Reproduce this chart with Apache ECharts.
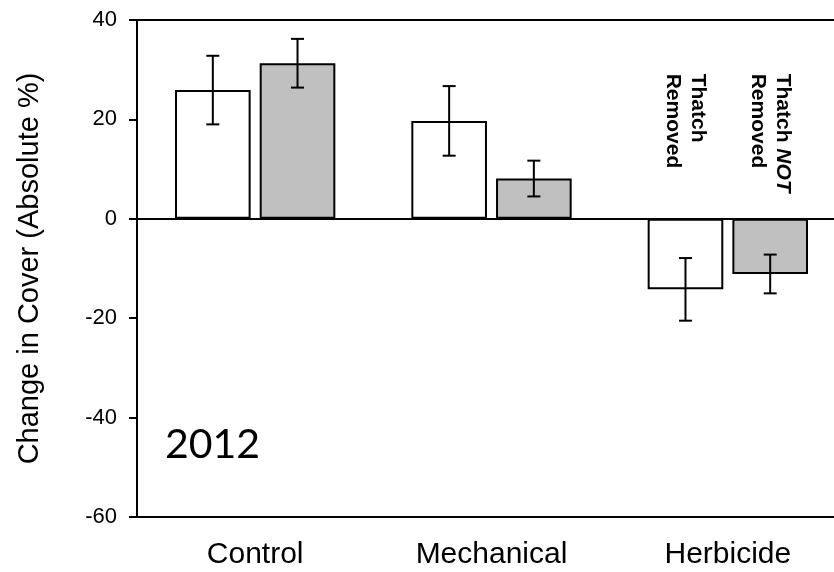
<!DOCTYPE html>
<html>
<head>
<meta charset="utf-8">
<script src="https://cdn.jsdelivr.net/npm/echarts@6/dist/echarts.min.js"></script>
<style>
html,body{margin:0;padding:0;background:#fff;overflow:hidden;width:834px;height:572px;}
#chart{width:846px;height:572px;}
</style>
</head>
<body>
<div id="chart"></div>
<script>
var categories = ['Control', 'Mechanical', 'Herbicide'];
var thatchRemoved = [25.9, 19.7, -14.2];
var thatchRemovedErr = [6.9, 7.0, 6.3];
var thatchNotRemoved = [31.3, 8.1, -11.1];
var thatchNotRemovedErr = [4.9, 3.6, 3.9];
var yTicks = [40, 20, 0, -20, -40, -60];
var yearLabel = '2012';
var yTitle = 'Change in Cover (Absolute %)';
var labelTopValue = 29.2;

var FONT = '"Liberation Sans", Arial, sans-serif';
var BAR_W = 0.32, BAR_GAP = 0.12;

var chart = echarts.init(document.getElementById('chart'), null, {renderer: 'canvas'});

function errSeries(name, vals, errs, sign) {
  return {
    type: 'custom',
    name: name,
    z: 10,
    clip: false,
    data: vals.map(function (v, i) { return [i, v - errs[i], v + errs[i]]; }),
    renderItem: function (params, api) {
      var band = api.size([1, 0])[0];
      var bw = band * BAR_W;
      var off = sign * (bw + bw * BAR_GAP) / 2;
      var lo = api.coord([api.value(0), api.value(1)]);
      var hi = api.coord([api.value(0), api.value(2)]);
      var x = lo[0] + off;
      var cap = 6.5;
      var st = {stroke: '#000', lineWidth: 2, fill: null};
      return {
        type: 'group',
        children: [
          {type: 'line', shape: {x1: x, y1: lo[1], x2: x, y2: hi[1]}, style: st},
          {type: 'line', shape: {x1: x - cap, y1: lo[1], x2: x + cap, y2: lo[1]}, style: st},
          {type: 'line', shape: {x1: x - cap, y1: hi[1], x2: x + cap, y2: hi[1]}, style: st}
        ]
      };
    }
  };
}

var option = {
  animation: false,
  backgroundColor: '#fff',
  grid: {left: 137, top: 20, bottom: 55, right: 0, show: true, borderColor: '#000', borderWidth: 2, backgroundColor: 'transparent'},
  xAxis: {
    type: 'category',
    data: categories,
    axisLine: {onZero: false, lineStyle: {color: '#000', width: 2}},
    axisTick: {alignWithLabel: true, length: 7, lineStyle: {color: '#000', width: 2}},
    axisLabel: {color: '#000', fontFamily: FONT, fontSize: 30, margin: 23}
  },
  yAxis: {
    type: 'value',
    min: yTicks[yTicks.length - 1],
    max: yTicks[0],
    interval: 20,
    splitLine: {show: false},
    axisLine: {show: true, lineStyle: {color: '#000', width: 2}},
    axisTick: {show: true, length: 8, lineStyle: {color: '#000', width: 2}},
    axisLabel: {color: '#000', fontFamily: FONT, fontSize: 22, margin: 20},
    name: yTitle,
    nameLocation: 'middle',
    nameGap: 93,
    nameTextStyle: {color: '#000', fontFamily: FONT, fontSize: 29}
  },
  series: [
    {
      type: 'bar',
      name: 'Thatch Removed',
      data: thatchRemoved,
      barWidth: (BAR_W * 100) + '%',
      barGap: (BAR_GAP * 100) + '%',
      itemStyle: {color: '#ffffff', borderColor: '#000', borderWidth: 2},
      markLine: {
        silent: true,
        symbol: 'none',
        label: {show: false},
        lineStyle: {color: '#000', width: 2, type: 'solid'},
        data: [{yAxis: 0}]
      }
    },
    {
      type: 'bar',
      name: 'Thatch NOT Removed',
      data: thatchNotRemoved,
      barWidth: (BAR_W * 100) + '%',
      barGap: (BAR_GAP * 100) + '%',
      itemStyle: {color: '#c0c0c0', borderColor: '#000', borderWidth: 2}
    },
    errSeries('err1', thatchRemoved, thatchRemovedErr, -1),
    errSeries('err2', thatchNotRemoved, thatchNotRemovedErr, 1)
  ]
};
chart.setOption(option);

var c2 = chart.convertToPixel({xAxisIndex: 0}, categories[2]);
var c1 = chart.convertToPixel({xAxisIndex: 0}, categories[1]);
var band = c2 - c1;
var bw = band * BAR_W;
var off = (bw + bw * BAR_GAP) / 2;
var topY = chart.convertToPixel({yAxisIndex: 0}, labelTopValue);

chart.setOption({
  graphic: [
    {
      type: 'text',
      x: 165, y: 424,
      style: {text: yearLabel, font: '41px Lato, "Open Sans", sans-serif', fill: '#000'}
    },
    {
      type: 'text',
      x: c2 - off, y: topY,
      rotation: -Math.PI / 2,
      style: {
        text: 'Thatch\nRemoved',
        align: 'left', verticalAlign: 'middle',
        font: 'bold 21px ' + FONT, lineHeight: 25, fill: '#000'
      }
    },
    {
      type: 'text',
      x: c2 + off, y: topY,
      rotation: -Math.PI / 2,
      style: {
        text: '{b|Thatch }{i|NOT}\n{b|Removed}',
        align: 'left', verticalAlign: 'middle',
        fill: '#000',
        rich: {
          b: {fontFamily: FONT, fontWeight: 'bold', fontSize: 21, lineHeight: 25, fill: '#000'},
          i: {fontFamily: FONT, fontWeight: 'bold', fontStyle: 'italic', fontSize: 21, lineHeight: 25, fill: '#000'}
        }
      }
    }
  ]
});
</script>
</body>
</html>
